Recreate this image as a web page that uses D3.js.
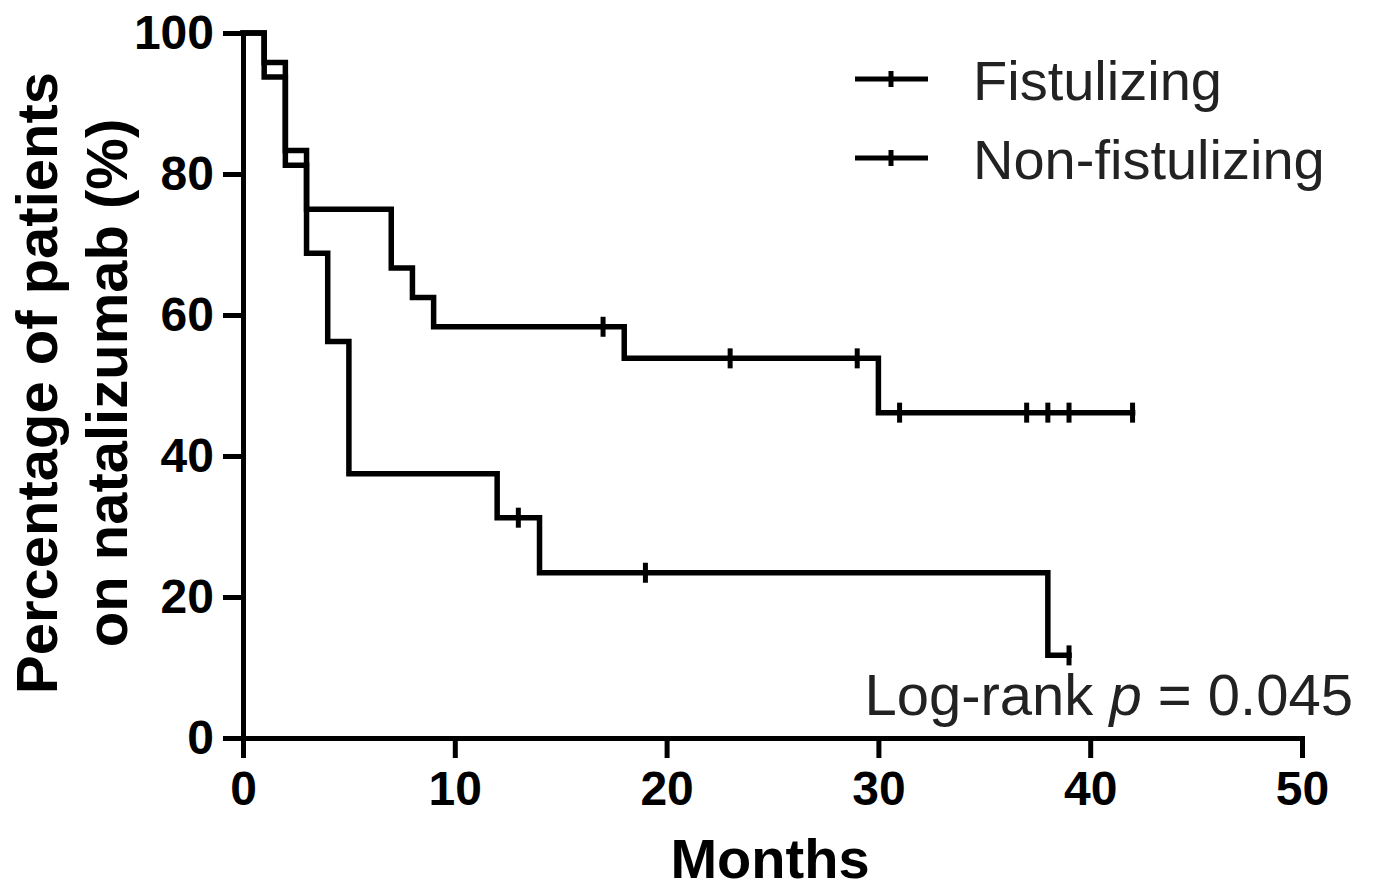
<!DOCTYPE html>
<html>
<head>
<meta charset="utf-8">
<script src="https://cdn.jsdelivr.net/npm/d3@7"></script>
<style>
  body { margin: 0; background: #fff; }
  svg { display: block; font-family: "Liberation Sans", Arial, sans-serif; }
</style>
</head>
<body>
<div id="chart"></div>
<script>
// Kaplan-Meier steps
const seriesNames = ["Fistulizing", "Non-fistulizing"];

const fistTimes = [0, 1, 2, 3, 7, 8, 9, 18, 30];
const fistSurv = [100, 95.83, 83.33, 75, 66.67, 62.5, 58.33, 53.85, 46.15];
const fistEnd = 42;
const fistCensor = [17, 23, 29, 31, 37, 38, 39, 42];

const nonTimes = [0, 1, 2, 3, 4, 5, 12, 14, 38];
const nonSurv = [100, 93.75, 81.25, 68.75, 56.25, 37.5, 31.25, 23.44, 11.72];
const nonEnd = 39;
const nonCensor = [13, 19, 39];

const xTicks = [0, 10, 20, 30, 40, 50];
const yTicks = [0, 20, 40, 60, 80, 100];

const width = 1375;
const height = 894;

const svg = d3.select("#chart")
  .append("svg")
  .attr("width", width)
  .attr("height", height);

svg.append("rect").attr("width", width).attr("height", height).attr("fill", "#fff");

const x = d3.scaleLinear().domain([0, 50]).range([243, 1302]);
const y = d3.scaleLinear().domain([0, 100]).range([738, 33]);

// axes
const yAxis = svg.append("g")
  .attr("transform", `translate(${x(0)},0)`)
  .call(d3.axisLeft(y).tickValues(yTicks).tickSize(20).tickSizeOuter(0).tickPadding(9));

const xAxis = svg.append("g")
  .attr("transform", `translate(0,${y(0)})`)
  .call(d3.axisBottom(x).tickValues(xTicks).tickSize(20).tickSizeOuter(0).tickPadding(13));

[xAxis, yAxis].forEach(g => {
  g.selectAll("path.domain").attr("stroke", "#000").attr("stroke-width", 5).attr("stroke-linecap", "square");
  g.selectAll(".tick line").attr("stroke", "#000").attr("stroke-width", 5);
  g.selectAll(".tick text")
    .attr("fill", "#000")
    .style("font-size", "48px")
    .style("font-weight", "bold")
    .style("font-family", "'Liberation Sans', Arial, sans-serif");
});

// curves
function steps(times, surv, end) {
  const pts = times.map((t, i) => [t, surv[i]]);
  pts.push([end, surv[surv.length - 1]]);
  return pts;
}

function survAt(times, surv, t) {
  let v = surv[0];
  times.forEach((tt, i) => { if (tt <= t) v = surv[i]; });
  return v;
}

const line = d3.line()
  .x(d => x(d[0]))
  .y(d => y(d[1]))
  .curve(d3.curveStepAfter);

const groups = [
  { times: fistTimes, surv: fistSurv, end: fistEnd, censor: fistCensor },
  { times: nonTimes, surv: nonSurv, end: nonEnd, censor: nonCensor }
];

groups.forEach(g => {
  svg.append("path")
    .datum(steps(g.times, g.surv, g.end))
    .attr("fill", "none")
    .attr("stroke", "#000")
    .attr("stroke-width", 5.5)
    .attr("stroke-linejoin", "miter")
    .attr("stroke-linecap", "square")
    .attr("d", line);

  svg.selectAll(null)
    .data(g.censor)
    .enter()
    .append("line")
    .attr("x1", d => x(d))
    .attr("x2", d => x(d))
    .attr("y1", d => y(survAt(g.times, g.surv, d)) - 10)
    .attr("y2", d => y(survAt(g.times, g.surv, d)) + 10)
    .attr("stroke", "#000")
    .attr("stroke-width", 5);
});

// legend
const legend = svg.append("g");
seriesNames.forEach((name, i) => {
  const ly = 79 + i * 79;
  legend.append("line")
    .attr("x1", 855).attr("x2", 928)
    .attr("y1", ly).attr("y2", ly)
    .attr("stroke", "#000").attr("stroke-width", 5);
  legend.append("line")
    .attr("x1", 891).attr("x2", 891)
    .attr("y1", ly - 8).attr("y2", ly + 8)
    .attr("stroke", "#000").attr("stroke-width", 5);
  legend.append("text")
    .attr("x", 973)
    .attr("y", ly + 21)
    .attr("fill", "#222")
    .style("font-size", "56px")
    .text(name);
});

// annotation
const note = svg.append("text")
  .attr("x", 1353)
  .attr("y", 715)
  .attr("text-anchor", "end")
  .attr("fill", "#222")
  .style("font-size", "58px");
note.append("tspan").text("Log-rank ");
note.append("tspan").style("font-style", "italic").text("p");
note.append("tspan").text(" = 0.045");

// axis titles
svg.append("text")
  .attr("x", 770)
  .attr("y", 878)
  .attr("text-anchor", "middle")
  .style("font-size", "56px")
  .style("font-weight", "bold")
  .text("Months");

const yTitle = svg.append("text")
  .attr("transform", "translate(0,383) rotate(-90)")
  .attr("text-anchor", "middle")
  .style("font-size", "58px")
  .style("font-weight", "bold");
yTitle.append("tspan").attr("x", 0).attr("y", 57).text("Percentage of patients");
yTitle.append("tspan").attr("x", 0).attr("y", 127).text("on natalizumab (%)");
</script>
</body>
</html>
